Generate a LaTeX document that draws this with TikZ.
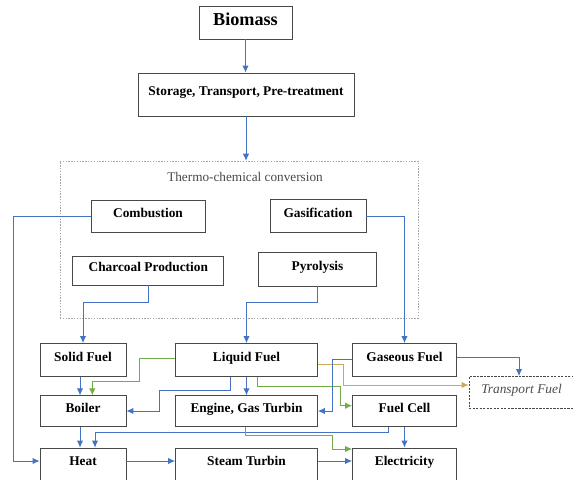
\documentclass[tikz,border=0pt]{standalone}
\usepackage{fontspec}
\setmainfont{Liberation Serif}
\usepackage{xcolor}
\usetikzlibrary{arrows.meta}
\definecolor{lineblue}{RGB}{68,114,196}
\definecolor{linegreen}{RGB}{112,173,71}
\definecolor{lineyellow}{RGB}{204,168,88}
\definecolor{boxgray}{RGB}{72,72,72}
\tikzset{
boxnodev1/.style={rectangle, draw=boxgray,fill=none,line width=0.7pt, inner sep=0pt, minimum height=0.99cm, text height=1.6ex, text depth=1.2ex, font=\fontsize{11.4}{13}\selectfont\bfseries},
boxnodev2/.style={boxnodev1, text depth=0.5ex, font=\fontsize{15.5}{18}\selectfont\bfseries},
dashednodev1/.style={rectangle, draw=boxgray,fill=none,line width=0.7pt, dash pattern=on 2pt off 1pt, inner sep=0pt, text height=1.6ex, text depth=1.2ex, text=black!70, font=\fontsize{11.4}{13}\selectfont\itshape},
regionnodev1/.style={rectangle, draw=black!35,fill=none,thin, dash pattern=on 1.2pt off 1.2pt, inner sep=0pt},
dummytext/.style={inner sep=0pt, text=boxgray, font=\fontsize{11.3}{13}\selectfont},
}
\begin{document}
\begin{tikzpicture}[x=0.03cm,y=-0.03cm,>={Latex[length=6pt,width=5.5pt]}]
    \useasboundingbox (0,0) rectangle (573,479);
    \node[boxnodev2, minimum width=2.79cm] at (245.5,22.5) (biomass) {Biomass};
    \node[boxnodev1, minimum width=6.48cm, minimum height=1.29cm] at (246,94.5) (storage) {Storage, Transport, Pre-treatment};
    \node[regionnodev1, minimum width=10.74cm, minimum height=4.71cm] at (239,239.5) (region) {};
    \node[dummytext] at (245,177) (regiontitle) {Thermo-chemical conversion};
    \node[boxnodev1, minimum width=3.42cm, minimum height=0.96cm] at (148,216) (combustion) {Combustion};
    \node[boxnodev1, minimum width=2.88cm] at (318,216) (gasification) {Gasification};
    \node[boxnodev1, minimum width=4.53cm, minimum height=0.87cm] at (148.3,270.5) (charcoal) {Charcoal Production};
    \node[boxnodev1, minimum width=3.54cm, minimum height=1.02cm] at (317.5,269) (pyrolysis) {Pyrolysis};
    \node[boxnodev1, minimum width=2.58cm] at (83,360) (solid) {Solid Fuel};
    \node[boxnodev1, minimum width=4.26cm] at (246.5,360) (liquid) {Liquid Fuel};
    \node[boxnodev1, minimum width=3.12cm] at (404.5,360) (gaseous) {Gaseous Fuel};
    \node[dashednodev1, minimum width=3.15cm, minimum height=0.96cm] at (521.5,392.5) (transport) {Transport Fuel};
    \node[boxnodev1, minimum width=2.58cm, minimum height=0.915cm] at (83,411) (boiler) {Boiler};
    \node[boxnodev1, minimum width=4.26cm, minimum height=0.915cm] at (246.5,411) (engine) {Engine, Gas Turbin};
    \node[boxnodev1, minimum width=3.12cm, minimum height=0.915cm] at (404.5,411) (fuelcell) {Fuel Cell};
    \node[boxnodev1, minimum width=2.58cm, minimum height=0.96cm] at (83,464) (heat) {Heat};
    \node[boxnodev1, minimum width=4.26cm, minimum height=0.96cm] at (246.5,464) (steam) {Steam Turbin};
    \node[boxnodev1, minimum width=3.12cm, minimum height=0.96cm] at (404.5,464) (electricity) {Electricity};
     % top part
     \draw[thick,lineblue,->] (biomass.south) to (biomass.south |- storage.north);
     \draw[thick,lineblue,->] (storage.south) to (storage.south |- region.north);
     \draw[thick,lineblue,->] (combustion.west) -- ++(-77,0) |- ([shift={(0,-3)}]heat.west);
     \draw[thick,lineblue,->] (charcoal.south) -- ++(0,16.7) -| (solid.north);
     \draw[thick,lineblue,->] (pyrolysis.south) -- ++(0,15.7) -| (liquid.north);
     \draw[thick,lineblue,->] (gasification.east) -| (gaseous.north);
     % fuels
     \draw[thick,lineblue,->] ([shift={(-3,0)}]solid.south) -- ([shift={(-3,0)}]boiler.north);
     \draw[thick,linegreen,->] ([shift={(0,-1.7)}]liquid.west) -- ++(-35.7,0) -- ++(0,23.4) -| ([shift={(9.3,0)}]boiler.north);
     \draw[thick,lineblue,->] ([shift={(-15.8,0)}]liquid.south) -- ++(0,13.3) -- ++(-71.7,0) |- (boiler.east);
     \draw[thick,lineblue,->] (liquid.south) -- (engine.north);
     \draw[thick,linegreen,->] ([shift={(10.5,0)}]liquid.south) -- ++(0,9.5) -- ++(83,0) |- ([shift={(0,-5.3)}]fuelcell.west);
     \draw[thick,lineyellow,->] ([shift={(0,4)}]liquid.east) -- ++(26,0) |- ([shift={(0,-7.5)}]transport.west);
     \draw[thick,lineblue,->] ([shift={(0,-1)}]gaseous.west) -- ++(-20,0) |- (engine.east);
     \draw[thick,lineblue,->] ([shift={(0,-2.7)}]gaseous.east) -| ([shift={(-2.5,0)}]transport.north);
     % heat and electricity
     \draw[thick,lineblue,->] ([shift={(-3,0)}]boiler.south) -- ([shift={(-3,0)}]heat.north);
     \draw[thick,lineblue,->] ([shift={(-16,0)}]fuelcell.south) -- ++(0,5.5) -| ([shift={(12,0)}]heat.north);
     \draw[thick,lineblue,->] (fuelcell.south) -- (electricity.north);
     \draw[thick,linegreen,->] ([shift={(-0.8,0)}]engine.south) -- ++(0,9) -- ++(87,0) |- ([shift={(0,-15)}]electricity.west);
     \draw[thick,lineblue,->] ([shift={(0,-3)}]heat.east) -- ([shift={(0,-3)}]steam.west);
     \draw[thick,lineblue,->] ([shift={(0,-3)}]steam.east) -- ([shift={(0,-3)}]electricity.west);
\end{tikzpicture}
\end{document}
